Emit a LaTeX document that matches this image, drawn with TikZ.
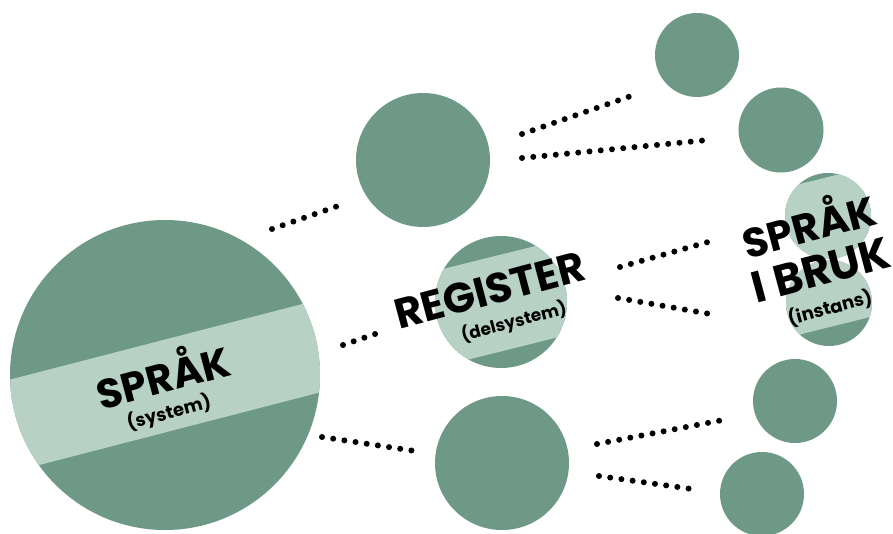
\documentclass[tikz,border=0pt]{standalone}
\usepackage{fontspec}
\setmainfont{Poppins}
\definecolor{dk}{RGB}{109,153,134}
\definecolor{lt}{RGB}{184,209,197}
\begin{document}
\begin{tikzpicture}[x=1pt,y=1pt,
  ball/.style={circle,fill=dk,inner sep=0pt,minimum size=#1},
  dots/.style={line width=6pt,line cap=round,dash pattern=on 0pt off 11.3pt},
  big/.style={font=\fontsize{41}{41}\selectfont\bfseries,inner sep=0pt,rotate=15},
  small/.style={font=\fontsize{18}{18}\selectfont\bfseries,inner sep=0pt,rotate=15}]
\useasboundingbox (0,0) rectangle (893,533);
% circles
\node[ball=310pt] (c0) at (165,158) {};
\node[ball=134pt] (r1) at (423,373) {};
\node[ball=132pt] (r2) at (501,231) {};
\node[ball=134pt] (r3) at (502,70) {};
\node[ball=84pt] (s1) at (697,478) {};
\node[ball=85pt] (s2) at (781,403) {};
\node[ball=86pt] (s3) at (828,317) {};
\node[ball=86pt] (s4) at (829,230) {};
\node[ball=84pt] (s5) at (795,132) {};
\node[ball=84pt] (s6) at (762,39) {};
% bands
\begin{scope}
  \clip (c0.center) circle (155);
  \fill[lt,rotate around={14.5:(165,147)}] (-100,102) rectangle (430,192);
\end{scope}
\begin{scope}
  \clip (r2.center) circle (66);
  \fill[lt,rotate around={14:(501,230)}] (400,183) rectangle (600,277);
\end{scope}
\begin{scope}
  \clip (s3.center) circle (43) (s4.center) circle (43);
  \fill[lt,rotate around={14:(829,281)}] (700,208) rectangle (950,354);
\end{scope}
% texts
\node[big] (t1) at (162,160) {SPRÅK};
\node[small] (t1s) at (169,120) {(system)};
\node[big,font=\fontsize{42}{42}\selectfont\bfseries] (t2) at (490,243) {REGISTER};
\node[small,font=\fontsize{17}{17}\selectfont\bfseries] (t2s) at (514,211) {(delsystem)};
\node[big] (t3) at (808,311) {SPRÅK};
\node[big,font=\fontsize{44}{44}\selectfont\bfseries] (t3b) at (821,263) {I BRUK};
\node[small] (t3s) at (830,225) {(instans)};
% dotted connector ends
\coordinate (a1) at (272,304); \coordinate (b1) at (338,327);
\coordinate (a2) at (522,399); \coordinate (b2) at (631,437);
\coordinate (a3) at (522,375); \coordinate (b3) at (708,393);
\coordinate (a4) at (343,188); \coordinate (b4) at (378,200);
\coordinate (a5) at (620,266); \coordinate (b5) at (708,291);
\coordinate (a6) at (618,235); \coordinate (b6) at (710,219);
\coordinate (a7) at (322,96);  \coordinate (b7) at (415,82);
\coordinate (a8) at (597,89);  \coordinate (b8) at (723,113);
\coordinate (a9) at (599,57);  \coordinate (b9) at (692,44);
\foreach \i in {1,...,9} {\draw[dots] (a\i) -- (b\i);}
\end{tikzpicture}
\end{document}
